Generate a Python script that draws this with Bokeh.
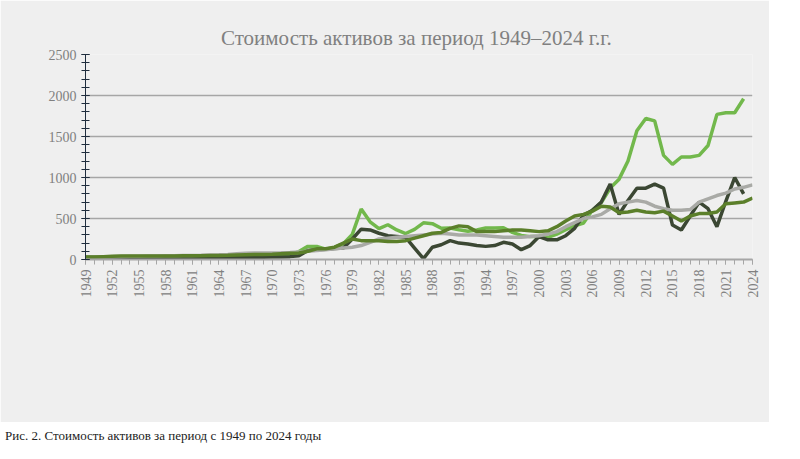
import math
from bokeh.plotting import figure
from bokeh.models import Legend, LegendItem, Div, FixedTicker
from bokeh.layouts import column
from bokeh.embed import file_html
from bokeh.resources import INLINE

years = list(range(1949, 2025))
gold = [35,35,35,35,35,35,35,35,35,35,35,35,35,35,35,35,35,35,35,39,41,36,41,58,97,160,160,125,148,193,306,615,460,376,424,361,317,368,447,437,381,383,362,344,360,384,384,388,331,294,279,279,271,310,363,409,445,604,695,872,980,1200,1570,1720,1690,1270,1160,1250,1250,1270,1390,1770,1790,1790,1960,None]
oil = [25,25,25,28,28,28,28,28,28,28,28,28,28,28,28,28,28,28,28,28,28,30,32,35,45,110,120,125,135,140,250,370,360,320,290,280,270,140,10,150,180,230,200,190,170,160,170,210,190,120,170,280,240,240,290,380,540,600,700,920,550,720,870,870,920,870,420,360,530,700,620,400,710,1000,800,None]
mod = [30,30,32,35,38,40,40,42,44,45,46,48,50,52,55,58,62,70,75,78,80,80,82,85,90,100,110,120,130,140,150,170,210,250,260,270,280,290,300,310,320,310,300,300,300,290,280,270,270,270,280,290,310,340,400,450,500,520,550,620,680,700,720,700,650,620,600,600,610,700,740,780,810,860,880,910]
dod = [30,30,35,40,42,42,42,42,42,42,42,45,45,46,48,50,52,55,58,60,62,65,70,75,80,100,130,130,150,200,250,230,230,230,220,220,230,260,290,320,330,380,410,400,340,340,340,350,360,360,350,340,350,400,470,530,550,590,650,640,570,580,600,580,570,590,530,470,530,560,560,580,680,690,700,750]

names = ["Динамика изменения стоимости актива. USD*    золото унц.",
         "Динамика изменения стоимости актива. USD*    нефть  USDxE -1",
         "Динамика изменения стоимости актива. USD* MOD US USDxE+9",
         "Динамика изменения стоимости актива. USD* DOD UK USDx E+2"]
colors = ["#72b84c", "#3b4733", "#a9aaa6", "#5b7f2a"]

FONT = "Liberation Sans Narrow"
BG = "#efefef"

p = figure(width=784, height=422, frame_width=667, frame_height=205,
           x_range=(1949, 2024), y_range=(0, 2500),
           output_backend="svg", toolbar_location=None,
           background_fill_color=BG, border_fill_color=BG,
           min_border_left=85, min_border_top=54, min_border_right=17, min_border_bottom=163)
p.title.text = "Стоимость  активов за период 1949–2024 г.г."
p.title.align = "center"
p.title.text_font = FONT
p.title.text_font_size = "21px"
p.title.text_font_style = "normal"
p.title.text_color = "#808080"
p.outline_line_color = None
p.xgrid.grid_line_color = None
p.ygrid.grid_line_color = "#a6a6a6"
p.ygrid.grid_line_width = 1.5
p.ygrid.ticker = FixedTicker(ticks=[500, 1000, 1500, 2000, 2500])

p.xaxis.ticker = FixedTicker(ticks=list(range(1949, 2025, 3)), minor_ticks=years)
p.xaxis.major_label_orientation = math.pi / 2
p.yaxis.ticker = FixedTicker(ticks=[0, 500, 1000, 1500, 2000, 2500], minor_ticks=list(range(0, 2501, 100)))
for ax in (p.xaxis, p.yaxis):
    ax.major_label_text_font = FONT
    ax.major_label_text_font_size = "14px"
    ax.major_label_text_color = "#808080"
p.xaxis.axis_line_color = "#a6a6a6"
p.xaxis.axis_line_width = 2
p.xaxis.major_tick_line_color = "#a6a6a6"
p.xaxis.minor_tick_line_color = "#a6a6a6"
p.xaxis.major_tick_in = 0
p.xaxis.major_tick_out = 5
p.xaxis.minor_tick_in = 0
p.xaxis.minor_tick_out = 5
p.yaxis.axis_line_color = "#1f2d3d"
p.yaxis.major_tick_line_color = "#1f2d3d"
p.yaxis.minor_tick_line_color = "#1f2d3d"
p.yaxis.major_tick_in = 4
p.yaxis.major_tick_out = 4
p.yaxis.minor_tick_in = 4
p.yaxis.minor_tick_out = 4

items = []
for name, data, c in zip(names, [gold, oil, mod, dod], colors):
    ys = [float("nan") if v is None else v for v in data]
    r = p.line(years, ys, line_color=c, line_width=3.5)
    items.append(LegendItem(label=name, renderers=[r]))

leg = Legend(items=items, location=(58, -158), orientation="vertical",
             background_fill_alpha=0, border_line_color=None,
             label_text_font=FONT, label_text_font_size="14px", label_text_color="#595959",
             glyph_width=32, glyph_height=20, spacing=8, label_standoff=20,
             padding=0, margin=0)
p.add_layout(leg)

cap = Div(text="Рис. 2. Стоимость активов за период с 1949 по 2024 годы",
          styles={"font-family": FONT, "font-size": "13px", "color": "#222"}, width=784, height=18)

open("out.html", "w").write(file_html(column(p, cap, spacing=0), INLINE))
